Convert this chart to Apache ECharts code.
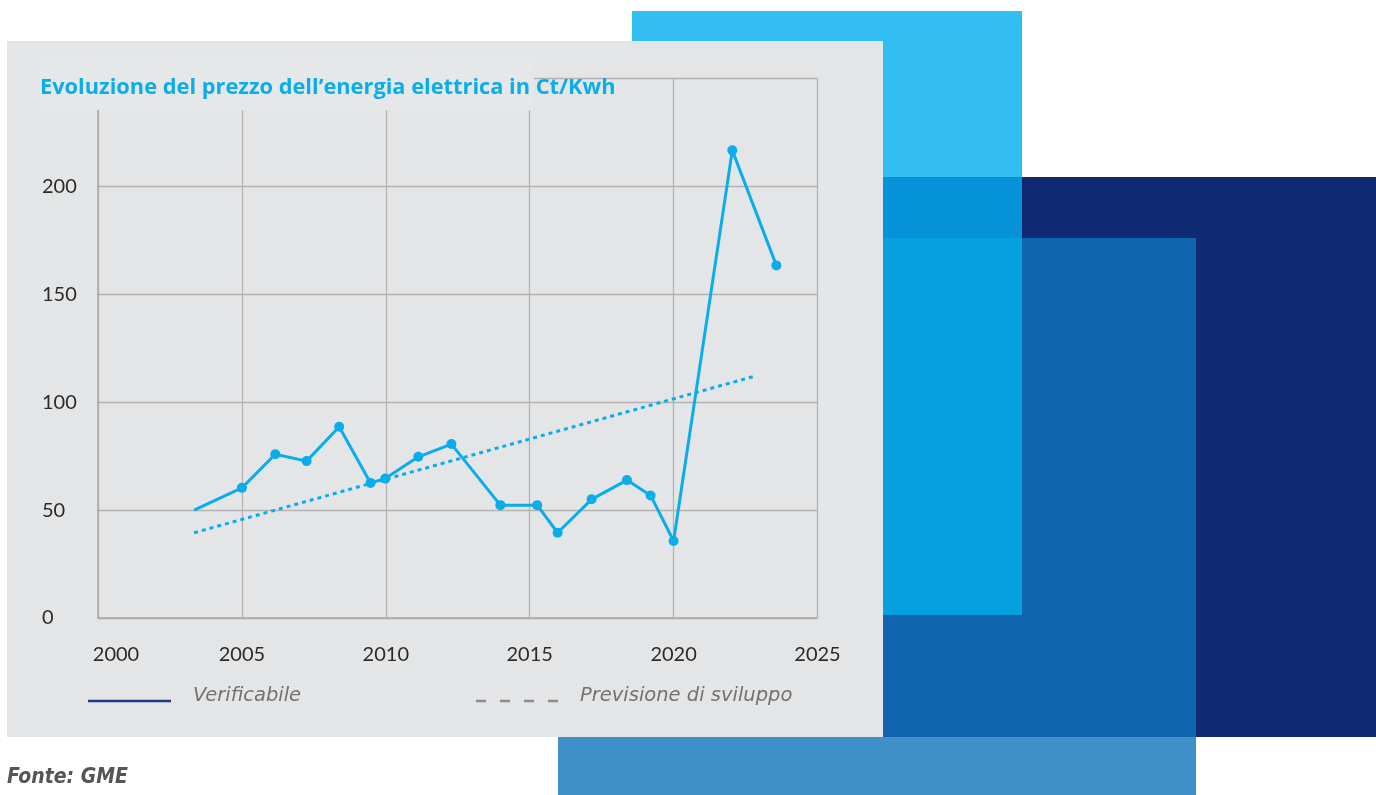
<!DOCTYPE html>
<html>
<head>
<meta charset="utf-8">
<script src="https://cdn.jsdelivr.net/npm/echarts@6/dist/echarts.min.js"></script>
<style>
html,body{margin:0;padding:0;background:#fff;}
#c{width:1376px;height:795px;}
</style>
</head>
<body>
<div id="c"></div>
<script>
// ---- data ----
const titleText = 'Evoluzione del prezzo dell’energia elettrica in Ct/Kwh';
const sourceText = 'Fonte: GME';
const legendNames = ['Verificabile', 'Previsione di sviluppo'];
const yearsActual = [2003.34, 2005.0, 2006.16, 2007.25, 2008.38, 2009.47, 2009.98, 2011.13, 2012.28, 2013.98, 2015.26, 2015.97, 2017.15, 2018.38, 2019.2, 2020.0, 2022.04, 2023.57];
const pricesActual = [50.0, 60.3, 75.9, 72.7, 88.6, 62.6, 64.6, 74.7, 80.6, 52.3, 52.3, 39.5, 55.0, 63.9, 56.8, 35.7, 216.7, 163.4];
const yearsTrend = [2003.34, 2022.8];
const pricesTrend = [39.5, 112.0];
const xTicks = [2000, 2005, 2010, 2015, 2020, 2025];
const yTicks = [0, 50, 100, 150, 200, 250];

const chart = echarts.init(document.getElementById('c'));
const BLUE = '#0AADEA';
const actualData = yearsActual.map((x, i) => [x, pricesActual[i]]);
const trendData = yearsTrend.map((x, i) => [x, pricesTrend[i]]);

const option = {
  animation: false,
  backgroundColor: '#ffffff',
  title: {
    text: titleText,
    left: 40, top: 75,
    textStyle: { fontFamily: 'Open Sans', fontWeight: 'bold', fontSize: 21.8, color: BLUE, lineHeight: 26 },
    padding: 0, z: 10
  },
  grid: { left: 98, right: 558.5, top: 78.5, bottom: 177, containLabel: false },
  xAxis: {
    type: 'value', min: xTicks[0], max: xTicks[xTicks.length - 1], interval: 5,
    axisLine: { show: true, lineStyle: { color: '#a9a9a9', width: 1.5 } },
    axisTick: { show: false },
    splitLine: { show: true, lineStyle: { color: '#b3b3b3', width: 1.3 } },
    axisLabel: {
      margin: 27, fontFamily: 'Lato', fontSize: 20, color: '#2b2b2b',
      formatter: v => (v === xTicks[0] ? '{first|' + v + '}' : String(v)),
      rich: { first: { fontFamily: 'Lato', fontSize: 20, color: '#2b2b2b', padding: [0, 0, 0, 36] } }
    }
  },
  yAxis: {
    type: 'value', min: yTicks[0], max: yTicks[yTicks.length - 1], interval: 50,
    axisLine: { show: true, lineStyle: { color: '#a9a9a9', width: 1.5 } },
    axisTick: { show: false },
    splitLine: { show: true, lineStyle: { color: '#b3b3b3', width: 1.3 } },
    axisLabel: {
      margin: 56, align: 'left', fontFamily: 'Lato', fontSize: 20, color: '#2b2b2b',
      padding: [0, 0, 6, 0],
      formatter: v => (v === 250 ? '' : String(v))
    }
  },
  series: [
    {
      name: legendNames[1], type: 'line', data: trendData, symbol: 'none',
      lineStyle: { color: BLUE, width: 3, type: [4, 4] }, z: 3, silent: true
    },
    {
      name: legendNames[0], type: 'line', data: actualData,
      symbol: (v, p) => (p.dataIndex === 0 ? 'none' : 'circle'), symbolSize: 10,
      itemStyle: { color: BLUE, borderWidth: 0 },
      lineStyle: { color: BLUE, width: 3 }, z: 4, silent: true
    }
  ],
  graphic: [
    { type: 'rect', z: -5, shape: { x: 632, y: 11, width: 390, height: 604 }, style: { fill: '#33BEF2' } },
    { type: 'rect', z: -5, shape: { x: 883, y: 177, width: 493, height: 560 }, style: { fill: '#0F2A73' } },
    { type: 'rect', z: -5, shape: { x: 883, y: 177, width: 139, height: 61 }, style: { fill: '#0592D8' } },
    { type: 'rect', z: -5, shape: { x: 883, y: 238, width: 313, height: 499 }, style: { fill: '#1065AE' } },
    { type: 'rect', z: -5, shape: { x: 883, y: 238, width: 139, height: 377 }, style: { fill: '#05A0E0' } },
    { type: 'rect', z: -5, shape: { x: 558, y: 737, width: 638, height: 58 }, style: { fill: '#3F8FC8' } },
    { type: 'rect', z: -4, shape: { x: 7, y: 41, width: 876, height: 696 }, style: { fill: '#E4E5E7' } },
    { type: 'rect', z: 5, shape: { x: 39, y: 57, width: 495, height: 53 }, style: { fill: '#E6E7E9' } },
    { type: 'line', z: 5, shape: { x1: 88, y1: 701, x2: 171, y2: 701 }, style: { stroke: '#1C3A8C', lineWidth: 2.5 } },
    { type: 'text', z: 5, x: 193, y: 696, style: { text: legendNames[0], fontFamily: 'DejaVu Sans', fontStyle: 'italic', fontWeight: 'normal', fontSize: 19.5, fill: '#727272', verticalAlign: 'middle' } },
    { type: 'line', z: 5, shape: { x1: 476, y1: 701, x2: 562, y2: 701 }, style: { stroke: '#8c8c8c', lineWidth: 2.5, lineDash: [10, 14] } },
    { type: 'text', z: 5, x: 580, y: 696, style: { text: legendNames[1], fontFamily: 'DejaVu Sans', fontStyle: 'italic', fontWeight: 'normal', fontSize: 19.5, fill: '#727272', verticalAlign: 'middle' } },
    { type: 'text', z: 5, x: 7, y: 778, style: { text: sourceText, fontFamily: 'DejaVu Sans Condensed', fontStyle: 'italic', fontWeight: 'bold', fontSize: 21, fill: '#555555', verticalAlign: 'middle' } }
  ]
};
chart.setOption(option);
</script>
</body>
</html>
